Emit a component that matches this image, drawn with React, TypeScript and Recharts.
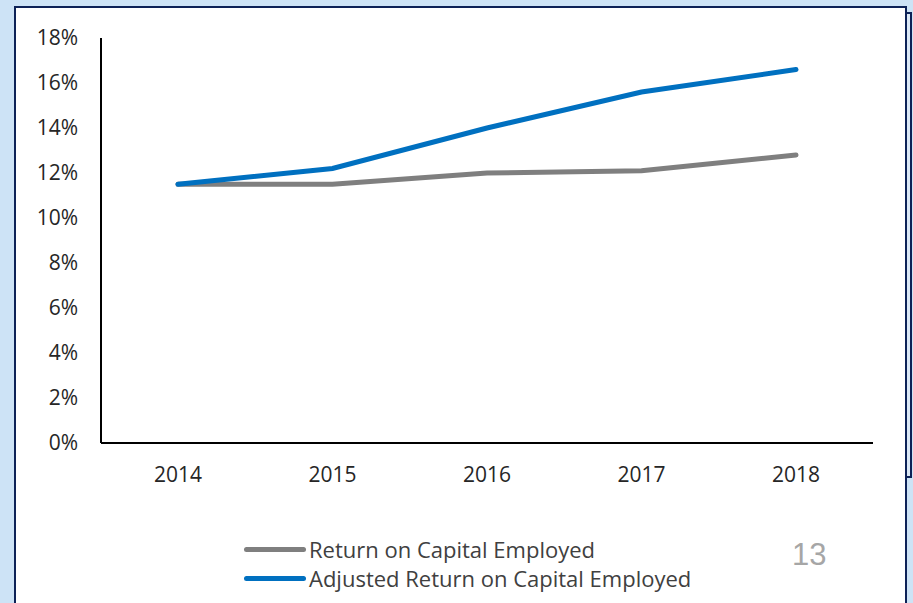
import { LineChart, Line, XAxis, YAxis } from "recharts";

const years = ["2014", "2015", "2016", "2017", "2018"];
const roce = [11.5, 11.5, 12.0, 12.1, 12.8];
const adjustedRoce = [11.5, 12.2, 14.0, 15.6, 16.6];
const yTicks = [0, 2, 4, 6, 8, 10, 12, 14, 16, 18];

const series = [
  { key: "roce", name: "Return on Capital Employed", color: "#7f7f7f" },
  { key: "adjusted", name: "Adjusted Return on Capital Employed", color: "#0070c0" },
];

const data = years.map((year, i) => ({
  year,
  roce: roce[i],
  adjusted: adjustedRoce[i],
}));

const font = "'Open Sans', Lato, sans-serif";

function LegendBox() {
  return (
    <div style={{ fontFamily: font, fontSize: 22, color: "#404040", lineHeight: "29px" }}>
      {series.map((s) => (
        <div key={s.key} style={{ display: "flex", alignItems: "center" }}>
          <span
            style={{
              display: "inline-block",
              width: 62,
              height: 5,
              borderRadius: 3,
              background: s.color,
              marginRight: 3,
            }}
          />
          {s.name}
        </div>
      ))}
    </div>
  );
}

export default function App() {
  return (
    <div
      style={{
        position: "fixed",
        left: 0,
        top: 0,
        width: 913,
        height: 603,
        background: "#cde3f6",
        overflow: "hidden",
      }}
    >
      <div
        style={{
          position: "absolute",
          left: 905,
          top: 12,
          width: 3,
          height: 462,
          border: "2px solid #0d2257",
          background: "#dbe8f6",
        }}
      />
      <div
        style={{
          position: "absolute",
          left: 14,
          top: 6,
          width: 889,
          height: 620,
          border: "2px solid #0d2257",
          background: "#ffffff",
        }}
      />
      <div style={{ position: "absolute", left: 0, top: 0 }}>
        <LineChart
          width={913}
          height={603}
          data={data}
          margin={{ top: 38, right: 40, bottom: 120, left: 41 }}
        >
          <XAxis
            dataKey="year"
            height={40}
            padding={{ left: 77, right: 77 }}
            tickLine={false}
            tickMargin={18}
            axisLine={{ stroke: "#000000", strokeWidth: 2 }}
            tick={{ fill: "#262626", fontSize: 21, fontFamily: font }}
          />
          <YAxis
            width={60}
            domain={[0, 18]}
            ticks={yTicks}
            interval={0}
            tickFormatter={(v) => `${v}%`}
            tickLine={false}
            tickMargin={17}
            axisLine={{ stroke: "#000000", strokeWidth: 2 }}
            tick={{ fill: "#262626", fontSize: 21, fontFamily: font }}
          />
          {series.map((s) => (
            <Line
              key={s.key}
              dataKey={s.key}
              name={s.name}
              stroke={s.color}
              strokeWidth={5}
              strokeLinecap="round"
              dot={false}
              activeDot={false}
              isAnimationActive={false}
            />
          ))}
        </LineChart>
      </div>
      <div style={{ position: "absolute", left: 244, top: 535 }}>
        <LegendBox />
      </div>
      <div
        style={{
          position: "absolute",
          left: 792,
          top: 537,
          fontFamily: "'Liberation Sans', Arial, sans-serif",
          fontSize: 31,
          color: "#a6a6a6",
        }}
      >
        13
      </div>
    </div>
  );
}
